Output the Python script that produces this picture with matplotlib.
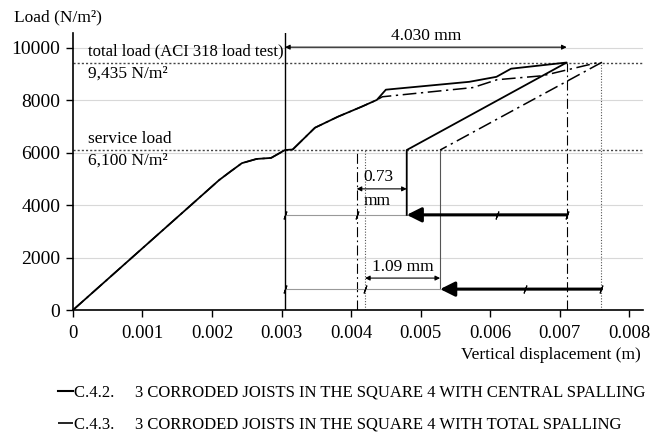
import matplotlib.pyplot as plt
from matplotlib.lines import Line2D

plt.rcParams['font.family'] = ['Liberation Serif', 'DejaVu Serif']

# C.4.2 - central spalling (loading branch then unloading)
x_c42 = [0, 0.0021, 0.00226, 0.00243, 0.00264, 0.00285, 0.00305, 0.00316, 0.00348,
         0.00381, 0.00415, 0.00437, 0.0045, 0.0057, 0.00609, 0.0063, 0.0071,
         0.0048, 0.0048]
y_c42 = [0, 4950, 5270, 5600, 5760, 5800, 6100, 6120, 6950,
         7370, 7750, 8010, 8400, 8700, 8890, 9200, 9435,
         6100, 3630]

# C.4.3 - total spalling
x_c43 = [0, 0.0021, 0.00226, 0.00243, 0.00264, 0.00285, 0.00305, 0.00316, 0.00348,
         0.00381, 0.00415, 0.00437, 0.00445, 0.00575, 0.0061, 0.00675, 0.00755,
         0.0076, 0.00528]
y_c43 = [0, 4950, 5270, 5600, 5760, 5800, 6100, 6120, 6950,
         7370, 7750, 8010, 8130, 8480, 8780, 8930, 9435,
         9435, 6100]

total_load = 9435
service_load = 6100
x_ref = 0.00305
x_c42_max, x_c42_res = 0.0071, 0.0048
x_c43_max, x_c43_res = 0.0076, 0.00528
x_c42_el, x_c43_el = 0.00408, 0.0042
y_arrow42, y_arrow43 = 3630, 800

xticks = [0, 0.001, 0.002, 0.003, 0.004, 0.005, 0.006, 0.007, 0.008]
xticklabels = ['0', '0.001', '0.002', '0.003', '0.004', '0.005', '0.006', '0.007', '0.008']
yticks = [0, 2000, 4000, 6000, 8000, 10000]

dashdot = (0, (9, 3, 1.5, 3))

fig = plt.figure(figsize=(6.51, 4.43), dpi=100)
ax = fig.add_axes([0.112, 0.30, 0.876, 0.6255])

for yv in yticks[1:]:
    ax.axhline(yv, color='#d8d8d8', lw=0.8, zorder=0)

ax.axhline(total_load, color='#444444', lw=1, ls=(0, (1.5, 1.5)), zorder=1)
ax.axhline(service_load, color='#444444', lw=1, ls=(0, (1.5, 1.5)), zorder=1)

ax.plot(x_c42, y_c42, color='black', lw=1.3, zorder=3)
ax.plot(x_c43, y_c43, color='black', lw=1.1, ls=dashdot, zorder=3)

# reference verticals
ax.axvline(x_ref, color='black', lw=1.0)
ax.plot([x_c42_el, x_c42_el], [0, service_load], color='black', lw=0.8, ls=dashdot)
ax.plot([x_c43_el, x_c43_el], [0, service_load], color='#555555', lw=0.8, ls=(0, (1, 1.5)))
ax.plot([x_c42_max, x_c42_max], [0, total_load], color='black', lw=0.8, ls=dashdot)
ax.plot([x_c43_max, x_c43_max], [0, total_load], color='#555555', lw=0.8, ls=(0, (1, 1.5)))
ax.plot([x_c43_res, x_c43_res], [y_arrow43, service_load], color='#555555', lw=0.8)

# base lines with slash marks
ax.plot([x_ref, x_c42_max], [y_arrow42] * 2, color='#999999', lw=0.8)
ax.plot([x_ref, x_c43_max], [y_arrow43] * 2, color='#999999', lw=0.8)
ax.plot([x_ref, x_c42_el, 0.0061, x_c42_max], [y_arrow42] * 4, ls='none',
        marker=(2, 2, -20), ms=6, mew=0.8, color='black')
ax.plot([x_ref, x_c43_el, 0.0065, x_c43_max], [y_arrow43] * 4, ls='none',
        marker=(2, 2, -20), ms=6, mew=0.8, color='black')

# thick arrows for recovery
ax.annotate('', xy=(x_c42_res, y_arrow42), xytext=(x_c42_max, y_arrow42),
            arrowprops=dict(arrowstyle='-|>', lw=2.2, color='black', mutation_scale=22,
                            shrinkA=0, shrinkB=0))
ax.annotate('', xy=(x_c43_res, y_arrow43), xytext=(x_c43_max, y_arrow43),
            arrowprops=dict(arrowstyle='-|>', lw=2.2, color='black', mutation_scale=22,
                            shrinkA=0, shrinkB=0))

# dimension arrows
dim = dict(arrowstyle='<|-|>', lw=0.8, color='black', mutation_scale=7, shrinkA=0, shrinkB=0)
ax.annotate('', xy=(x_ref, 10020), xytext=(x_c42_max, 10020), arrowprops=dim)
ax.text((x_ref + x_c42_max) / 2, 10150, '4.030 mm', ha='center', va='bottom', fontsize=12.5)
ax.annotate('', xy=(x_c42_el, 4620), xytext=(x_c42_res, 4620), arrowprops=dim)
ax.text(x_c42_el + 0.0001, 4750, '0.73', ha='left', va='bottom', fontsize=12.5)
ax.text(x_c42_el + 0.0001, 4480, 'mm', ha='left', va='top', fontsize=12.5)
ax.annotate('', xy=(x_c43_el, 1220), xytext=(x_c43_res, 1220), arrowprops=dim)
ax.text((x_c43_el + x_c43_res) / 2, 1350, '1.09 mm', ha='center', va='bottom', fontsize=12.5)

ax.text(0.00022, 9560, 'total load (ACI 318 load test)', fontsize=12, va='bottom')
ax.text(0.00022, 9330, '9,435 N/m²', fontsize=12.5, va='top')
ax.text(0.00022, 6220, 'service load', fontsize=12.5, va='bottom')
ax.text(0.00022, 5990, '6,100 N/m²', fontsize=12.5, va='top')

ax.set_xlim(0, 0.0082)
ax.set_ylim(0, 10560)
ax.set_xticks(xticks)
ax.set_xticklabels(xticklabels)
ax.set_yticks(yticks)
ax.tick_params(axis='y', labelsize=14, length=5, width=1, pad=4)
ax.tick_params(axis='x', labelsize=13.5, length=5, width=1, pad=6)
for s in ['top', 'right']:
    ax.spines[s].set_visible(False)
for s in ['left', 'bottom']:
    ax.spines[s].set_linewidth(1.2)

fig.text(0.022, 0.96, 'Load (N/m²)', fontsize=12.5, va='center')
fig.text(0.985, 0.198, 'Vertical displacement (m)', fontsize=12.5, ha='right', va='center')

handles = [Line2D([], [], color='black', lw=1.5),
           Line2D([], [], color='black', lw=1.2, ls=dashdot)]
labels = ['C.4.2.     3 CORRODED JOISTS IN THE SQUARE 4 WITH CENTRAL SPALLING',
          'C.4.3.     3 CORRODED JOISTS IN THE SQUARE 4 WITH TOTAL SPALLING']
fig.legend(handles, labels, loc='upper left', bbox_to_anchor=(0.076, 0.15),
           frameon=False, fontsize=12, handlelength=0.9, handletextpad=0.1,
           labelspacing=0.95, borderpad=0)

fig.savefig('out.png', dpi=100)
